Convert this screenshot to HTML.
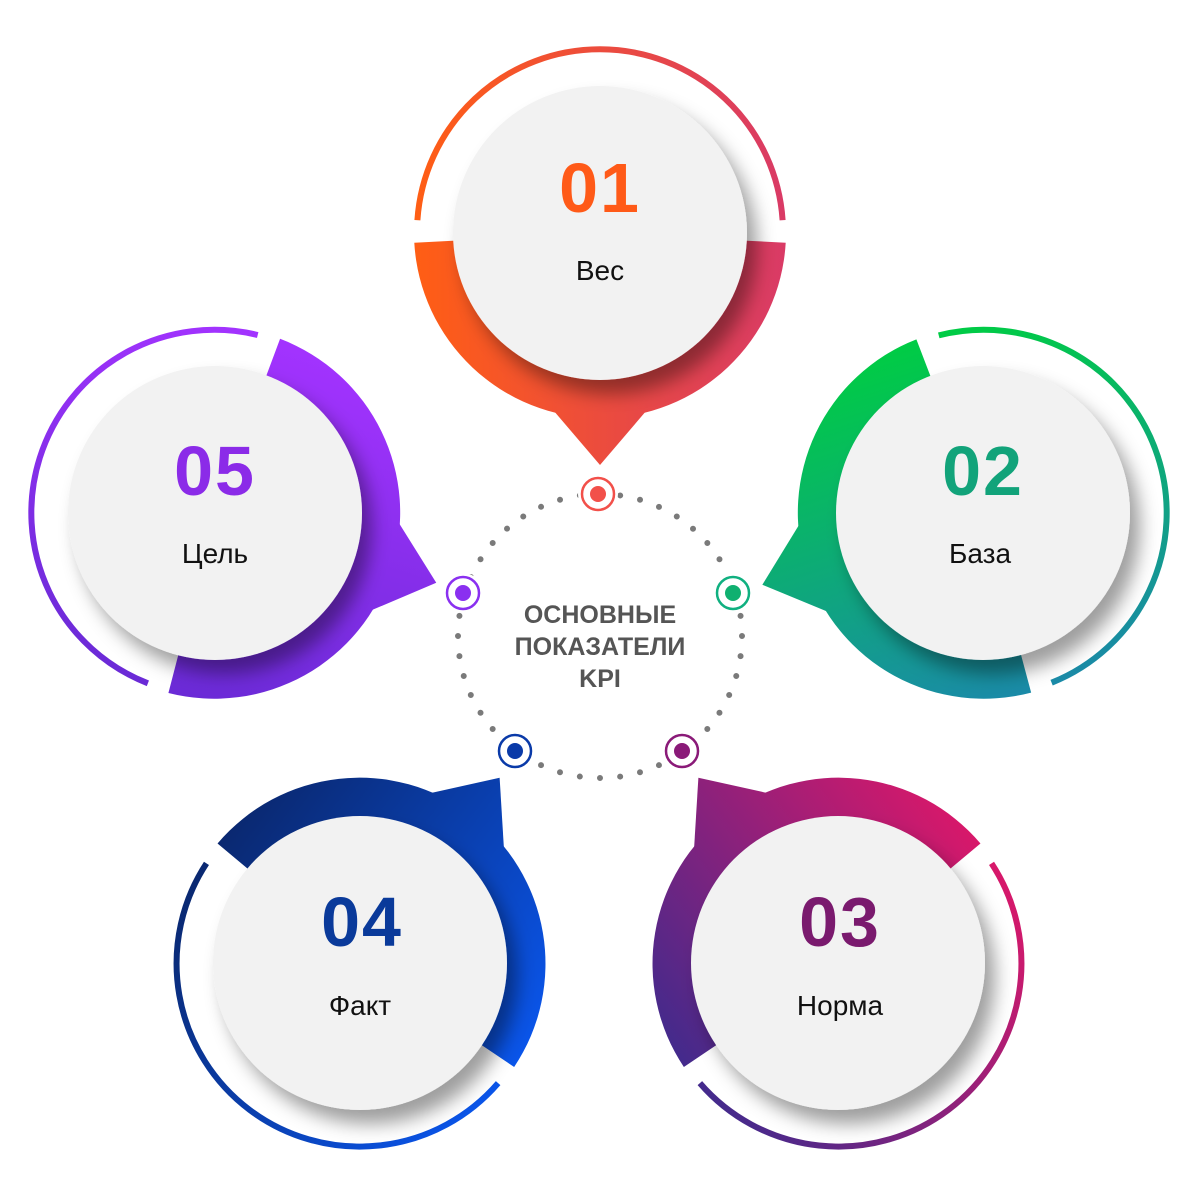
<!DOCTYPE html>
<html><head><meta charset="utf-8"><style>
html,body{margin:0;padding:0;background:#fff;}
svg{display:block;}
</style></head><body>
<svg width="1200" height="1200" viewBox="0 0 1200 1200" xmlns="http://www.w3.org/2000/svg">
<defs>
<filter id="sh" x="-30%" y="-30%" width="160%" height="160%">
<feDropShadow dx="10" dy="14" stdDeviation="9" flood-color="#000" flood-opacity="0.38"/>
</filter>
<linearGradient id="g1" gradientUnits="userSpaceOnUse" x1="-186" y1="0" x2="186" y2="0"><stop offset="0" stop-color="#ff5e14"/><stop offset="1" stop-color="#d93a66"/></linearGradient>
<linearGradient id="g2" gradientUnits="userSpaceOnUse" x1="-186" y1="0" x2="186" y2="0"><stop offset="0" stop-color="#00cc44"/><stop offset="1" stop-color="#1a8aa8"/></linearGradient>
<linearGradient id="g3" gradientUnits="userSpaceOnUse" x1="-186" y1="0" x2="186" y2="0"><stop offset="0" stop-color="#d8186a"/><stop offset="1" stop-color="#432a8c"/></linearGradient>
<linearGradient id="g4" gradientUnits="userSpaceOnUse" x1="-186" y1="0" x2="186" y2="0"><stop offset="0" stop-color="#0a55ea"/><stop offset="1" stop-color="#0a2870"/></linearGradient>
<linearGradient id="g5" gradientUnits="userSpaceOnUse" x1="-186" y1="0" x2="186" y2="0"><stop offset="0" stop-color="#6a2ad6"/><stop offset="1" stop-color="#a333ff"/></linearGradient>
<g id="shape">
<path d="M185.7,9.7 A186,186 0 0 1 -185.7,9.7 L-144.8,7.6 A145,145 0 0 0 144.8,7.6 Z"/>
<polygon points="-70,150 70,150 0,232"/>
</g>
</defs>

<!-- dotted center circle -->
<circle cx="600" cy="636" r="142" fill="none" stroke="#7a7a7a" stroke-width="6" stroke-linecap="round" stroke-dasharray="0 20.27"/>

<!-- nodes -->
<g transform="translate(600,233) rotate(0)" fill="url(#g1)">
<use href="#shape"/>
<path d="M-182.6,-12.8 A183,183 0 0 1 182.6,-12.8" fill="none" stroke="url(#g1)" stroke-width="6"/>
<circle r="147" fill="#f2f2f2" filter="url(#sh)"/>
</g>
<g transform="translate(983,513) rotate(72)" fill="url(#g2)">
<use href="#shape"/>
<path d="M-182.6,-12.8 A183,183 0 0 1 182.6,-12.8" fill="none" stroke="url(#g2)" stroke-width="6"/>
<circle r="147" fill="#f2f2f2" filter="url(#sh)" transform="rotate(-72)"/>
</g>
<g transform="translate(838,963) rotate(143)" fill="url(#g3)">
<use href="#shape"/>
<path d="M-182.6,-12.8 A183,183 0 0 1 182.6,-12.8" fill="none" stroke="url(#g3)" stroke-width="6"/>
<circle r="147" fill="#f2f2f2" filter="url(#sh)" transform="rotate(-143)"/>
</g>
<g transform="translate(360,963) rotate(-143)" fill="url(#g4)">
<use href="#shape"/>
<path d="M-182.6,-12.8 A183,183 0 0 1 182.6,-12.8" fill="none" stroke="url(#g4)" stroke-width="6"/>
<circle r="147" fill="#f2f2f2" filter="url(#sh)" transform="rotate(143)"/>
</g>
<g transform="translate(215,513) rotate(-72.5)" fill="url(#g5)">
<use href="#shape"/>
<path d="M-182.6,-12.8 A183,183 0 0 1 182.6,-12.8" fill="none" stroke="url(#g5)" stroke-width="6"/>
<circle r="147" fill="#f2f2f2" filter="url(#sh)" transform="rotate(72.5)"/>
</g>

<!-- markers -->
<g stroke-width="2.5">
<circle cx="598" cy="494" r="20" fill="#fff" stroke="none"/>
<circle cx="598" cy="494" r="16" fill="#fff" stroke="#f2504a"/><circle cx="598" cy="494" r="8" fill="#f2504a"/>
<circle cx="733" cy="593" r="20" fill="#fff" stroke="none"/>
<circle cx="733" cy="593" r="16" fill="#fff" stroke="#10b080"/><circle cx="733" cy="593" r="8" fill="#10b070"/>
<circle cx="682" cy="751" r="20" fill="#fff" stroke="none"/>
<circle cx="682" cy="751" r="16" fill="#fff" stroke="#8a1a78"/><circle cx="682" cy="751" r="8" fill="#8a1a78"/>
<circle cx="515" cy="751" r="20" fill="#fff" stroke="none"/>
<circle cx="515" cy="751" r="16" fill="#fff" stroke="#0a3aa8"/><circle cx="515" cy="751" r="8" fill="#0a3aa8"/>
<circle cx="463" cy="593" r="20" fill="#fff" stroke="none"/>
<circle cx="463" cy="593" r="16" fill="#fff" stroke="#8a30f0"/><circle cx="463" cy="593" r="8" fill="#8a30f0"/>
</g>

<!-- center text -->
<g font-family="Liberation Sans, sans-serif" font-weight="bold" font-size="25" fill="#555" text-anchor="middle">
<text x="600" y="623">ОСНОВНЫЕ</text>
<text x="600" y="655">ПОКАЗАТЕЛИ</text>
<text x="600" y="687">KPI</text>
</g>

<!-- node text -->
<g font-family="Liberation Sans, sans-serif" text-anchor="middle">
<g font-weight="bold" font-size="70" letter-spacing="2">
<text x="600" y="212" fill="#ff5a18">01</text>
<text x="983" y="495" fill="#12a37a">02</text>
<text x="840" y="946" fill="#7a1a6e">03</text>
<text x="362" y="946" fill="#0a3a9a">04</text>
<text x="215" y="495" fill="#8b2be8">05</text>
</g>
<g font-size="28" fill="#111">
<text x="600" y="280">Вес</text>
<text x="980" y="563">База</text>
<text x="840" y="1015">Норма</text>
<text x="360" y="1015">Факт</text>
<text x="215" y="563">Цель</text>
</g>
</g>
</svg>
</body></html>
